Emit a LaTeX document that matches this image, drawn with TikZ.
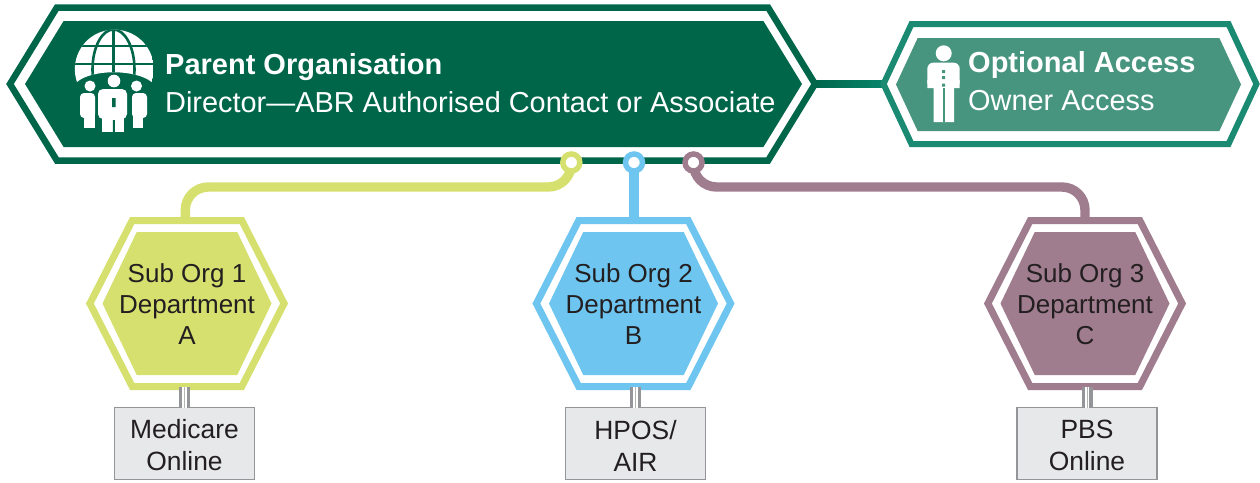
\documentclass[tikz,border=0pt]{standalone}
\usepackage{fontspec}
\setmainfont{Liberation Sans}
\usetikzlibrary{shapes.symbols, positioning, backgrounds}

\definecolor{mainGreen}{HTML}{00664A}
\definecolor{optEdge}{HTML}{1A8A72}
\definecolor{optFill}{HTML}{47957F}
\definecolor{linkGreen}{HTML}{07846A}
\definecolor{limeOrg}{HTML}{D5E06F}
\definecolor{blueOrg}{HTML}{6EC6F0}
\definecolor{mauveOrg}{HTML}{A07D8E}
\definecolor{boxFill}{HTML}{E7E8EA}
\definecolor{boxEdge}{HTML}{939598}
\definecolor{inkDark}{HTML}{231F20}

\tikzset{
    hexshape/.style={signal, signal to=west and east, signal pointer angle=#1,
        inner sep=0pt, outer sep=0pt},
    widehex/.style={hexshape=117},
    opthex/.style={hexshape=130},
    orghex/.style={hexshape=126, minimum width=194.2pt, minimum height=166pt, line width=7pt, fill=white},
    orgcore/.style={hexshape=128.8, minimum width=169pt, minimum height=143pt},
    orglabel/.style={align=center, inner sep=0pt, yshift=-0.8pt, text=inkDark, font=\fontsize{26}{31}\selectfont},
    tap/.style={circle, draw=#1, line width=5.5pt, fill=white, minimum size=17pt, inner sep=0pt, outer sep=0pt},
    link/.style={draw=#1, line width=9.4pt, rounded corners=23pt},
    infobox/.style={rectangle, draw=boxEdge, fill=boxFill, line width=1.3pt, minimum width=140pt,
        minimum height=72pt, inner sep=0pt, outer sep=0pt},
    infolabel/.style={align=center, inner sep=0pt, yshift=-2pt, text=inkDark, font=\fontsize{26.4}{32}\selectfont},
    boldline/.style={anchor=base west, text=white, inner sep=0pt, font=\fontsize{29}{29}\selectfont\bfseries},
    plainline/.style={anchor=base west, text=white, inner sep=0pt, font=\fontsize{28.9}{29}\selectfont},
}

\begin{document}
\begin{tikzpicture}[x=1pt, y=-1pt]
    \useasboundingbox (0,0) rectangle (1260,482);

    % Top nodes
    \node (mainOuter) [widehex, draw=mainGreen, line width=6.5pt, fill=white, minimum width=805pt, minimum height=153pt] at (412.5,84) {};
    \node (mainCore) [widehex, fill=mainGreen, minimum width=777pt, minimum height=126pt] at (413.5,84) {};
    \node (optOuter) [opthex, draw=optEdge, line width=6pt, fill=white, minimum width=373pt, minimum height=120pt] at (1070,84) {};
    \node (optCore) [opthex, fill=optFill, minimum width=345pt, minimum height=93pt] at (1068.5,84.5) {};

    % Labels
    \node (mainTitle) [boldline] at (165,74) {Parent Organisation};
    \node (mainRole) [plainline] at (165,112) {Director—ABR Authorised Contact or Associate};
    \node (optTitle) [boldline] at (968,72) {Optional Access};
    \node (optRole) [plainline] at (968,110) {Owner Access};

    % Sub organisations
    \node (hexLime) [orghex, draw=limeOrg] at (187,303.5) {};
    \node (coreLime) [orgcore, fill=limeOrg] at (187,303.5) {};
    \node (textLime) [orglabel] at (coreLime) {Sub Org 1\\Department\\A};
    \node (hexBlue) [orghex, draw=blueOrg] at (633.5,303.5) {};
    \node (coreBlue) [orgcore, fill=blueOrg] at (633.5,303.5) {};
    \node (textBlue) [orglabel] at (coreBlue) {Sub Org 2\\Department\\B};
    \node (hexMauve) [orghex, draw=mauveOrg] at (1085,303.5) {};
    \node (coreMauve) [orgcore, fill=mauveOrg] at (1085,303.5) {};
    \node (textMauve) [orglabel] at (coreMauve) {Sub Org 3\\Department\\C};

    % Systems
    \node (boxLime) [infobox] at (184.5,443.5) {};
    \node (nameLime) [infolabel] at (boxLime) {Medicare\\Online};
    \node (boxBlue) [infobox] at (635.5,443.5) {};
    \node (nameBlue) [infolabel] at (boxBlue) {HPOS/\\AIR};
    \node (boxMauve) [infobox] at (1087,443.5) {};
    \node (nameMauve) [infolabel] at (boxMauve) {PBS\\Online};

    % Taps on the parent
    \node (tapLime) [tap=limeOrg] at (571.3,162.5) {};
    \node (tapBlue) [tap=blueOrg] at (634,162.5) {};
    \node (tapMauve) [tap=mauveOrg] at (693.5,162.5) {};
    \coordinate (rail) at (0,187);

    % Links
    \begin{scope}[on background layer]
        \draw[linkGreen, line width=7pt] (mainOuter.east) -- (optOuter.west);
        \shade[left color=mainGreen, right color=linkGreen] ([yshift=3.5pt]mainOuter.east) rectangle ([yshift=-3.5pt]optOuter.west);
        \draw[link=limeOrg] (tapLime.center) |- ([xshift=-1.7pt]hexLime.north |- rail) -- ([xshift=-1.7pt]hexLime.north);
        \draw[link=blueOrg] (tapBlue.center) -- (tapBlue.center |- hexBlue.north);
        \draw[link=mauveOrg] (tapMauve.center) |- (hexMauve.north |- rail) -- (hexMauve.north);
    \end{scope}

    % Stems
    \foreach \org/\hex in {boxLime/hexLime, boxBlue/hexBlue, boxMauve/hexMauve} {
        \draw[boxEdge, line width=11pt] (\org.north) -- (\org.north |- \hex.south);
        \draw[white, line width=4.4pt] (\org.north) -- (\org.north |- \hex.south);
        \draw[boxEdge!70, line width=1pt] (\org.north) -- (\org.north |- \hex.south);
    }

    % Globe and people
    \begin{scope}
        \clip (77,82) arc[start angle=161, end angle=379, radius=39.5] .. controls (135,69) and (92,69) .. (77,82) -- cycle;
        \fill[white] (74,25) rectangle (153,90);
        \draw[mainGreen, line width=2.6pt] (113.5,25) -- (113.5,90);
        \draw[mainGreen, line width=2.6pt] (70,46) -- (160,46) (70,64) -- (160,64);
        \draw[mainGreen, line width=2.6pt] (113.5,69.5) ellipse[x radius=21, y radius=40];
    \end{scope}
    \fill[white] (114,81) circle[radius=6.3] (90,86) circle[radius=5.5] (136.5,86) circle[radius=5.5];
    \fill[white, rounded corners=5pt] (98,119) -- (98,89) -- (127,89) -- (127,119) -- cycle;
    \fill[white] (102,115) rectangle (124,132);
    \fill[mainGreen] (112,98) rectangle (115.5,107) (112.8,120) rectangle (114.8,132);
    \fill[white, rounded corners=4pt] (80,118) -- (80,93) -- (95,93) -- (95,118) -- cycle;
    \fill[white] (84,112) rectangle (94.5,128);
    \fill[white, rounded corners=4pt] (132,118) -- (132,93) -- (147,93) -- (147,118) -- cycle;
    \fill[white] (132.5,112) rectangle (143,128);

    % Person
    \fill[white] (943.7,53.3) circle[radius=8];
    \fill[white, rounded corners=6pt] (927.3,88) -- (927.3,62.7) -- (959.7,62.7) -- (959.7,88) -- cycle;
    \fill[white] (927.3,80) rectangle (959.7,88) (933.7,85) rectangle (954,122);
    \fill[optFill] (942.7,88) rectangle (944.7,122);
    \fill[optFill] (942.2,70.2) rectangle (945.2,73.2) (942.2,76.2) rectangle (945.2,79.2) (942.2,83.5) rectangle (945.2,86.5);
\end{tikzpicture}
\end{document}
